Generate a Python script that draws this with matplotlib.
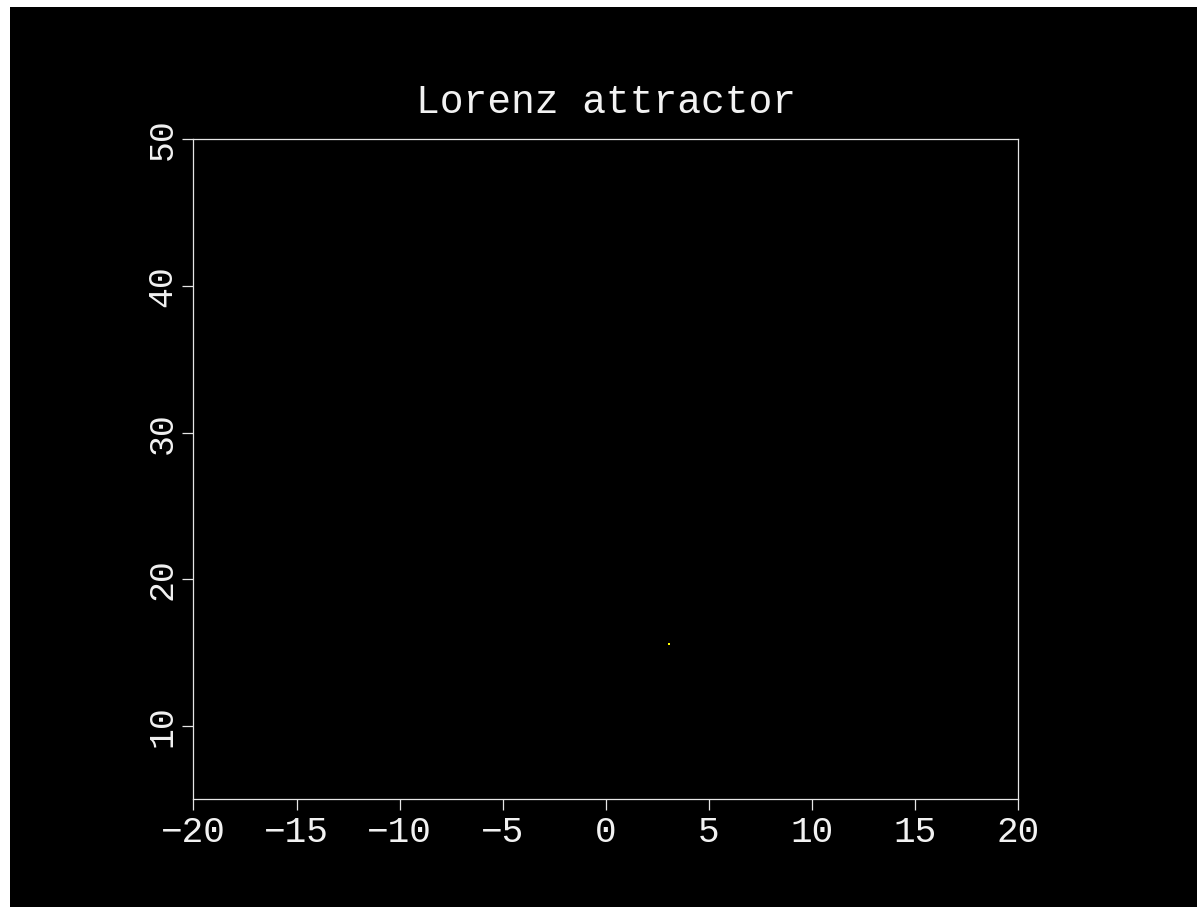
import matplotlib
matplotlib.use("Agg")
import matplotlib.pyplot as plt
from matplotlib.patches import Rectangle

# Trajectory samples (x, z) of the Lorenz system shown so far
traj_x = [3.07]
traj_z = [15.57]

x_ticks = [-20, -15, -10, -5, 0, 5, 10, 15, 20]
y_ticks = [10, 20, 30, 40, 50]
x_limits = (-20, 20)
y_limits = (5, 50)

W, H, DPI = 1197, 907, 100
fig = plt.figure(figsize=(W / DPI, H / DPI), dpi=DPI, facecolor="white")

# black drawing surface, offset from the image edge
fig.patches.append(Rectangle((10 / W, 0), 1, 1 - 7 / H, transform=fig.transFigure,
                             facecolor="black", edgecolor="none", zorder=-10))

left, right = 193.4 / W, 1018.3 / W
bottom, top = 1 - 799.3 / H, 1 - 139.3 / H
ax = fig.add_axes([left, bottom, right - left, top - bottom])
ax.set_facecolor("black")

ax.plot(traj_x, traj_z, linestyle="none", marker="s", markersize=1.8,
        markeredgewidth=0, color="#ffff00")

ax.set_xlim(*x_limits)
ax.set_ylim(*y_limits)
ax.set_xticks(x_ticks)
ax.set_yticks(y_ticks)

font = "Liberation Mono"
text_color = "#f2f2f2"
ax.set_xticklabels([str(v).replace("-", "\u2212") for v in x_ticks],
                   family=font, fontsize=26, color=text_color)
ax.set_yticklabels([str(v) for v in y_ticks], family=font, fontsize=25,
                   color=text_color, rotation=90, va="center")

for s in ax.spines.values():
    s.set_color("#e6e6e6")
    s.set_linewidth(0.9)

ax.tick_params(axis="both", direction="out", length=7.6, width=0.9,
               color="#e6e6e6", top=False, right=False)
ax.tick_params(axis="x", pad=4)
ax.tick_params(axis="y", pad=3)

ax.set_title("Lorenz attractor", family=font, fontsize=28.5, color=text_color, pad=19)

fig.savefig("out.png", dpi=DPI, facecolor=fig.get_facecolor())
